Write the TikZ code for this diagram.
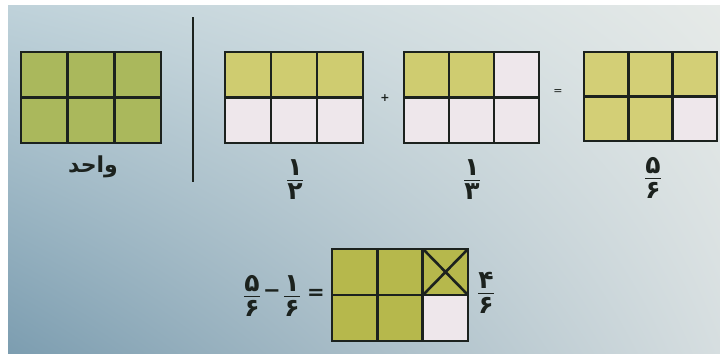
\documentclass[tikz,border=0pt]{standalone}
\usepackage{fontspec}
\usetikzlibrary{shadings}
\newfontfamily\arabicfont[Script=Arabic]{DejaVu Sans}
\newfontfamily\symfont{DejaVu Sans}
\TeXXeTstate=1
\definecolor{ink}{HTML}{1C221E}
\definecolor{gA}{HTML}{AAB85C}
\definecolor{yB}{HTML}{CFCC70}
\definecolor{yD}{HTML}{D3CF76}
\definecolor{gE}{HTML}{B6B84C}
\definecolor{wc}{HTML}{EEE7EB}
\definecolor{bgUL}{HTML}{BFD2DA}
\definecolor{bgUR}{HTML}{E6EAE8}
\definecolor{bgLL}{HTML}{7C9DB0}
\definecolor{bgLR}{HTML}{D6DEE0}
\newcommand\digitfont{\arabicfont\bfseries\fontsize{25}{25}\selectfont}
\newcommand\pfrac[2]{\ensuremath{\displaystyle{\hbox{\digitfont #1}\above 1.1pt\hbox{\digitfont #2}}}}
% grid lines of a 3x2 box: x0 y0 x1 y1
\newcommand\gridlines[4]{%
  \pgfmathsetmacro\gxa{#1+(#3-#1)/3}%
  \pgfmathsetmacro\gxb{#1+2*(#3-#1)/3}%
  \pgfmathsetmacro\gym{(#2+#4)/2}%
  \draw[gl] (#1,#2) rectangle (#3,#4);
  \draw[gl] (\gxa,#2) -- (\gxa,#4) (\gxb,#2) -- (\gxb,#4) (#1,\gym) -- (#3,\gym);
}
% fills: x0 y0 x1 y1 top bottom
\newcommand\gridfill[6]{%
  \pgfmathsetmacro\gym{(#2+#4)/2}%
  \fill[#5] (#1,#2) rectangle (#3,\gym);
  \fill[#6] (#1,\gym) rectangle (#3,#4);
}
\begin{document}
\begin{tikzpicture}[x=1pt,y=-1pt,
  gl/.style={line width=2.6pt, draw=ink, line join=miter},
  sign/.style={text=ink, inner sep=0pt},
  lbl/.style={text=ink, inner sep=0pt}]
\useasboundingbox (0,0) rectangle (720,354);
\fill[white] (0,0) rectangle (720,354);
\shade[upper left=bgUL, upper right=bgUR, lower left=bgLL, lower right=bgLR] (8,5) rectangle (720,353);

% box A (unit)
\gridfill{21}{52}{161}{143}{gA}{gA}
\gridlines{21}{52}{161}{143}
\node[lbl] (wahed) at (93,167) {\arabicfont\bfseries\fontsize{22}{22}\selectfont\beginR واحد\endR};

% divider
\coordinate (divtop) at (193,17);
\coordinate (divbot) at (193,182);
\draw[line width=2.2pt, draw=ink] (divtop) -- (divbot);

% box B : 1/2
\gridfill{225}{52}{363}{143}{yB}{wc}
\gridlines{225}{52}{363}{143}
\node[lbl] (fB) at (295,180) {\pfrac{۱}{۲}};

\node[sign] (plus) at (385,98) {\symfont\bfseries\fontsize{11}{11}\selectfont +};

% box C : 1/3
\gridfill{404}{52}{539}{143}{yB}{wc}
\fill[wc] (494,52) rectangle (539,97.5);
\gridlines{404}{52}{539}{143}
\node[lbl] (fC) at (472,180) {\pfrac{۱}{۳}};

\node[sign] (eq1) at (558,92) {\symfont\fontsize{11}{11}\selectfont =};

% box D : 5/6
\gridfill{584}{52}{717}{141}{yD}{yD}
\fill[wc] (672.7,96.5) rectangle (717,141);
\gridlines{584}{52}{717}{141}
\node[lbl] (fD) at (653,178) {\pfrac{۵}{۶}};

% bottom equation
\node[lbl] (f56) at (252,296) {\pfrac{۵}{۶}};
\node[sign] (minus) at (272,294) {\symfont\bfseries\fontsize{21}{21}\selectfont −};
\node[lbl] (f16) at (292,296) {\pfrac{۱}{۶}};
\node[sign] (eq2) at (316,294) {\symfont\bfseries\fontsize{21}{21}\selectfont =};

% box E : 4/6
\gridfill{332}{249}{468}{341}{gE}{gE}
\fill[wc] (423,295) rectangle (468,341);
\gridlines{332}{249}{468}{341}
\coordinate (xa) at (423,249);
\coordinate (xb) at (468,295);
\coordinate (xc) at (468,249);
\coordinate (xd) at (423,295);
\draw[gl] (xa) -- (xb) (xc) -- (xd);
\node[lbl] (f46) at (486,293) {\pfrac{۴}{۶}};
\end{tikzpicture}
\end{document}
